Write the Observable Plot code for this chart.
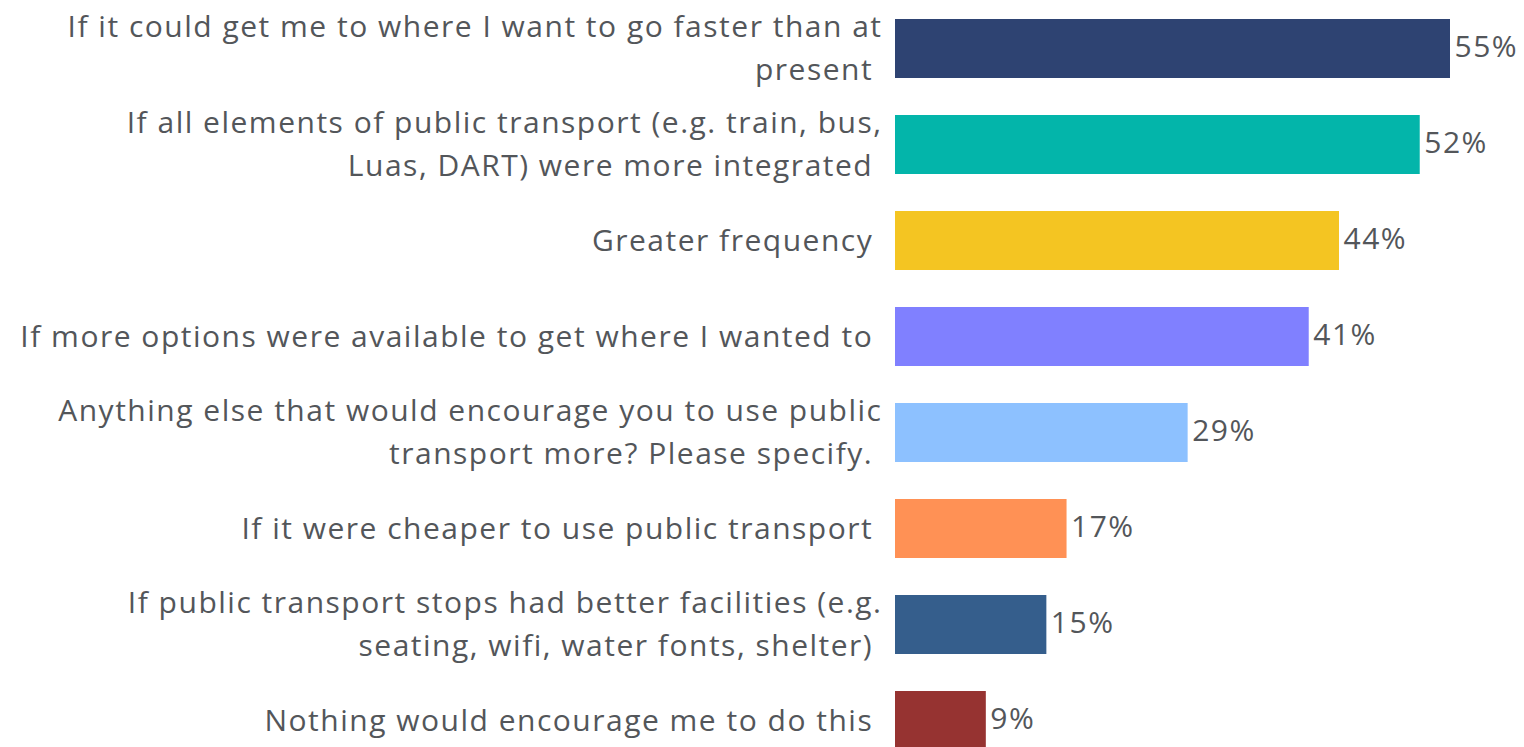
<!DOCTYPE html>
<html>
<head>
<meta charset="utf-8">
<script src="https://cdn.jsdelivr.net/npm/d3@7"></script>
<script src="https://cdn.jsdelivr.net/npm/@observablehq/plot@0.6"></script>
<style>
  html, body { margin: 0; padding: 0; background: #fff; overflow: hidden; }
  svg text { white-space: pre; letter-spacing: 1.5px; }
</style>
</head>
<body>
<div id="chart"></div>
<script>
const categories = [
  "If it could get me to where I want to go faster than at\npresent ",
  "If all elements of public transport (e.g. train, bus,\nLuas, DART) were more integrated ",
  "Greater frequency ",
  "If more options were available to get where I wanted to ",
  "Anything else that would encourage you to use public\ntransport more? Please specify. ",
  "If it were cheaper to use public transport ",
  "If public transport stops had better facilities (e.g.\nseating, wifi, water fonts, shelter) ",
  "Nothing would encourage me to do this "
];
const values = [55, 52, 44, 41, 29, 17, 15, 9];
const valueLabels = ["55%", "52%", "44%", "41%", "29%", "17%", "15%", "9%"];
const colors = ["#2E4372", "#03B5AA", "#F4C522", "#8080FF", "#8DC1FF", "#FF9155", "#355E8C", "#963331"];

const data = categories.map((c, i) => ({cat: c, value: values[i], label: valueLabels[i], color: colors[i]}));

const chart = Plot.plot({
  width: 1524,
  height: 753,
  marginLeft: 895,
  marginRight: 74,
  marginTop: 17,
  marginBottom: 0,
  style: {fontFamily: "'Open Sans', sans-serif", background: "#fff"},
  x: {domain: [0, 55], axis: null},
  y: {domain: categories, axis: null, paddingInner: 0.381, paddingOuter: 0},
  color: {type: "identity"},
  marks: [
    Plot.barX(data, {y: "cat", x: "value", fill: "color"}),
    Plot.text(data, {
      y: "cat", x: 0, text: "cat",
      textAnchor: "end", dx: -13, dy: -4,
      lineHeight: 1.43, fontSize: 30, fill: "#53565A"
    }),
    Plot.text(data, {
      y: "cat", x: "value", text: "label",
      textAnchor: "start", dx: 4, dy: -2,
      fontSize: 30, fill: "#53565A"
    })
  ]
});
document.getElementById("chart").appendChild(chart);
</script>
</body>
</html>
